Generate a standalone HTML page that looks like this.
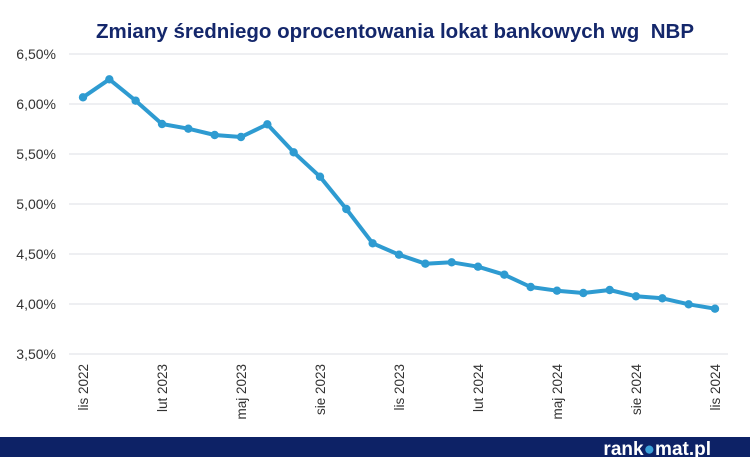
<!DOCTYPE html>
<html><head><meta charset="utf-8"><style>
body{margin:0;width:750px;height:457px;background:#fff;overflow:hidden;font-family:"Liberation Sans",sans-serif}
</style></head><body>
<svg width="750" height="457">
<text x="395" y="38" text-anchor="middle" font-size="20.5" font-weight="bold" fill="#14276b">Zmiany średniego oprocentowania lokat bankowych wg &#160;NBP</text>
<g id="grid"></g><g id="yt"></g><g id="xt"></g><g id="series"></g>
<rect x="0" y="437" width="750" height="20" fill="#0d2266"/>
<text x="711" y="455" text-anchor="end" font-size="19" font-weight="bold" fill="#fff">rank<tspan fill="#3aa0d8">●</tspan>mat.pl</text>
</svg>
<script>
const categories=["lis 2022","gru 2022","sty 2023","lut 2023","mar 2023","kwi 2023","maj 2023","cze 2023","lip 2023","sie 2023","wrz 2023","paź 2023","lis 2023","gru 2023","sty 2024","lut 2024","mar 2024","kwi 2024","maj 2024","cze 2024","lip 2024","sie 2024","wrz 2024","paź 2024","lis 2024"];
const values=[6.067,6.247,6.033,5.80,5.753,5.69,5.67,5.797,5.517,5.273,4.95,4.607,4.493,4.403,4.417,4.373,4.293,4.17,4.133,4.11,4.14,4.077,4.057,3.997,3.953];
const yTicks=[3.5,4,4.5,5,5.5,6,6.5];
const NS="http://www.w3.org/2000/svg";
const x=i=>83+i*(715-83)/(categories.length-1);
const y=v=>354-(v-3.5)*100;
function mk(p,t,a){const e=document.createElementNS(NS,t);for(const k in a)e.setAttribute(k,a[k]);document.getElementById(p).appendChild(e);return e;}
yTicks.forEach(v=>{
 const l=mk("grid","line",{x1:69,x2:728,y1:y(v),y2:y(v),stroke:"#dcdfe6","stroke-width":1});
 
 
 const t=mk("yt","text",{x:56,y:y(v)+5,"text-anchor":"end","font-size":14,fill:"#333"});
 t.textContent=v.toFixed(2).replace('.',',')+'%';
 
 
});
categories.forEach((c,i)=>{
 if(i%3!==0)return;
 const t=mk("xt","text",{x:0,y:0,"text-anchor":"end","font-size":13.5,fill:"#333",transform:`translate(${x(i)+5},364) rotate(-90)`});
 t.textContent=c;
 
 
});
const pl=mk("series","polyline",{points:values.map((v,i)=>x(i)+","+y(v)).join(" "),fill:"none",stroke:"#2e9bd1","stroke-width":4,"stroke-linejoin":"round"});


values.forEach((v,i)=>{
 const c=mk("series","circle",{cx:x(i),cy:y(v),r:4.2,fill:"#2e9bd1"});
 
 
});
</script>
</body></html>
